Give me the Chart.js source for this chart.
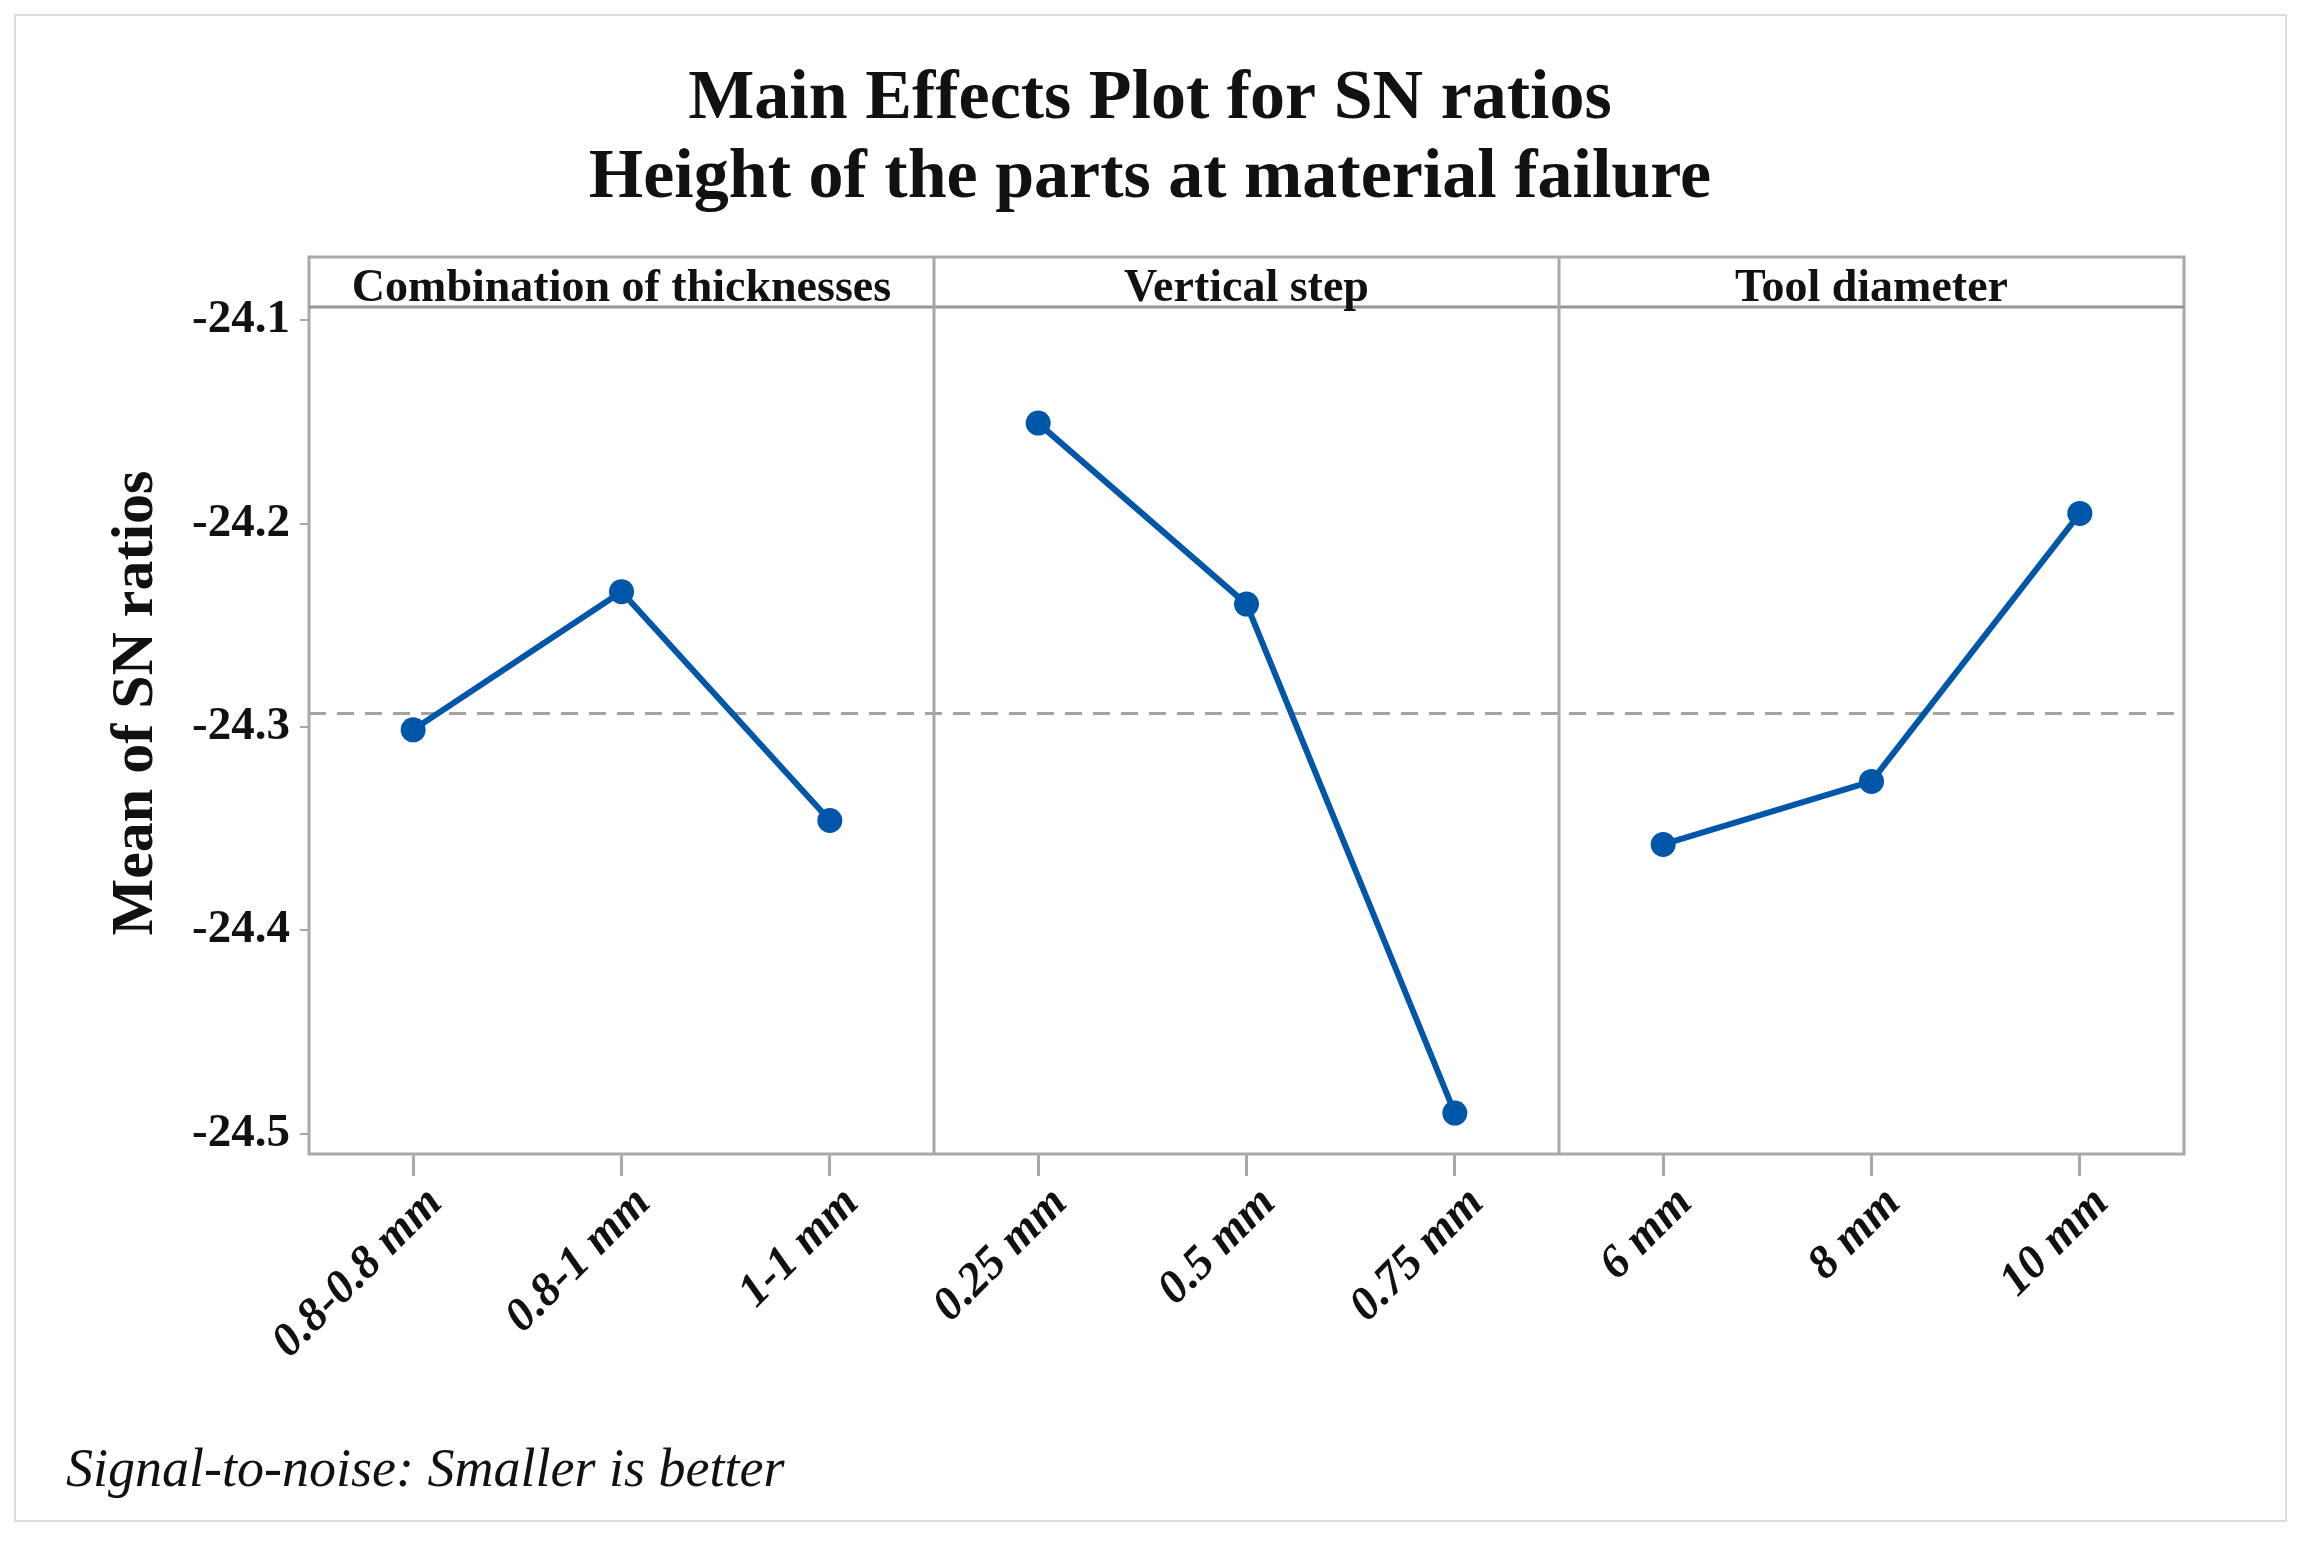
<!DOCTYPE html>
<html>
<head>
<meta charset="utf-8">
<script src="https://cdn.jsdelivr.net/npm/chart.js@4.4.1/dist/chart.umd.min.js"></script>
<style>
  html, body { margin: 0; padding: 0; background: #ffffff; overflow: hidden; }
  #wrap { width: 2305px; height: 1541px; }
</style>
</head>
<body>
<div id="wrap"><canvas id="c" width="2305" height="1541"></canvas></div>
<script>
// ---- data ----
const titleLines = ['Main Effects Plot for SN ratios', 'Height of the parts at material failure'];
const factorNames = ['Combination of thicknesses', 'Vertical step', 'Tool diameter'];
const categories = ['0.8-0.8 mm', '0.8-1 mm', '1-1 mm', '0.25 mm', '0.5 mm', '0.75 mm', '6 mm', '8 mm', '10 mm'];
const thicknessSN = [-24.3014, -24.2335, -24.3460];
const verticalStepSN = [-24.1506, -24.2396, -24.4899];
const toolDiameterSN = [-24.3578, -24.3268, -24.1950];
const meanSN = -24.2934;
const yTickValues = [-24.5, -24.4, -24.3, -24.2, -24.1];
const yMin = -24.5100;
const yMax = -24.0935;
const yAxisTitle = 'Mean of SN ratios';
const footnote = 'Signal-to-noise: Smaller is better';

// ---- build datasets (each factor occupies its own group of 3 categories) ----
const groups = [thicknessSN, verticalStepSN, toolDiameterSN];
function padded(values, groupIndex) {
  const arr = new Array(categories.length).fill(null);
  values.forEach((v, i) => { arr[groupIndex * 3 + i] = v; });
  return arr;
}
const BLUE = '#0056a8';
const datasets = groups.map((vals, g) => ({
  label: factorNames[g],
  data: padded(vals, g),
  borderColor: BLUE,
  backgroundColor: BLUE,
  borderWidth: 6,
  pointRadius: 12.5,
  pointHoverRadius: 12.5,
  pointBackgroundColor: BLUE,
  pointBorderColor: BLUE,
  pointBorderWidth: 0,
  spanGaps: false,
  tension: 0
}));

const SERIF = '"Liberation Serif", "DejaVu Serif", serif';
const HEADER_H = 50;

const panelPlugin = {
  id: 'panels',
  beforeDatasetsDraw(chart) {
    const { ctx, chartArea: a, scales: { y } } = chart;
    const ym = y.getPixelForValue(meanSN);
    ctx.save();
    ctx.strokeStyle = '#a3a3a3';
    ctx.lineWidth = 3;
    ctx.setLineDash([17, 11]);
    ctx.beginPath();
    ctx.moveTo(a.left, ym);
    ctx.lineTo(a.right, ym);
    ctx.stroke();
    ctx.restore();
  },
  afterDraw(chart) {
    const { ctx, chartArea: a, scales: { x } } = chart;
    const headTop = a.top - HEADER_H;
    ctx.save();
    // outer frame
    ctx.strokeStyle = '#dcdcdc';
    ctx.lineWidth = 2;
    ctx.strokeRect(15, 15, 2271, 1506);
    // plot + header frame
    ctx.strokeStyle = '#a8a8a8';
    ctx.lineWidth = 3;
    ctx.strokeRect(a.left, headTop, a.right - a.left, a.bottom - headTop);
    // header bottom line
    ctx.strokeStyle = '#959595';
    ctx.beginPath();
    ctx.moveTo(a.left, a.top);
    ctx.lineTo(a.right, a.top);
    ctx.stroke();
    // panel separators
    ctx.strokeStyle = '#a8a8a8';
    [2.5, 5.5].forEach(v => {
      const px = x.getPixelForValue(v);
      ctx.beginPath();
      ctx.moveTo(px, headTop);
      ctx.lineTo(px, a.bottom);
      ctx.stroke();
    });
    // header labels
    ctx.fillStyle = '#111111';
    ctx.font = 'bold 46px ' + SERIF;
    ctx.textAlign = 'center';
    ctx.textBaseline = 'alphabetic';
    factorNames.forEach((name, g) => {
      const cx = (x.getPixelForValue(g * 3 - 0.5) + x.getPixelForValue(g * 3 + 2.5)) / 2;
      ctx.fillText(name, cx, a.top - 6);
    });
    // main title
    ctx.font = 'bold 70px ' + SERIF;
    ctx.fillText(titleLines[0], 1150, 118);
    ctx.fillText(titleLines[1], 1150, 197);
    // y axis title
    ctx.save();
    ctx.translate(152, 703);
    ctx.rotate(-Math.PI / 2);
    ctx.font = 'bold 60px ' + SERIF;
    ctx.textAlign = 'center';
    ctx.fillText(yAxisTitle, 0, 0);
    ctx.restore();
    // footnote
    ctx.font = 'italic 54px ' + SERIF;
    ctx.textAlign = 'left';
    ctx.fillText(footnote, 66, 1486);
    ctx.restore();
  }
};

new Chart(document.getElementById('c'), {
  type: 'line',
  data: { labels: categories, datasets },
  plugins: [panelPlugin],
  options: {
    responsive: false,
    devicePixelRatio: 1,
    animation: false,
    events: [],
    layout: { padding: { left: 0, top: 307, right: 121, bottom: 0 } },
    plugins: { legend: { display: false }, title: { display: false }, tooltip: { enabled: false } },
    scales: {
      x: {
        type: 'category',
        offset: true,
        border: { display: false },
        grid: { drawOnChartArea: false, drawTicks: true, tickLength: 22, color: '#a8a8a8', lineWidth: 3 },
        ticks: {
          autoSkip: false,
          minRotation: 45,
          maxRotation: 45,
          padding: 0,
          labelOffset: 22,
          color: '#111111',
          font: { family: SERIF, size: 47, style: 'italic', weight: 'bold' }
        },
        afterFit(scale) { scale.height = 1541 - 1154; }
      },
      y: {
        min: yMin,
        max: yMax,
        border: { display: false },
        grid: { drawOnChartArea: false, drawTicks: true, tickLength: 9, color: '#a8a8a8', lineWidth: 2 },
        afterBuildTicks(scale) { scale.ticks = yTickValues.map(v => ({ value: v })); },
        ticks: {
          padding: 10,
          color: '#111111',
          font: { family: SERIF, size: 47, weight: 'bold' },
          callback: v => v.toFixed(1)
        },
        afterFit(scale) { scale.width = 309; }
      }
    }
  }
});
</script>
</body>
</html>
